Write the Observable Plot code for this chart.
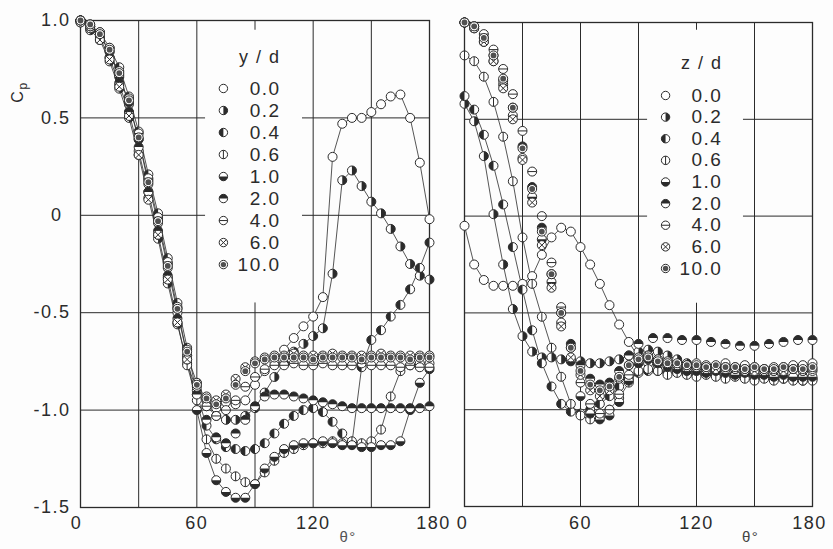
<!DOCTYPE html>
<html><head><meta charset="utf-8">
<script src="https://cdn.jsdelivr.net/npm/d3@7"></script>
<script src="https://cdn.jsdelivr.net/npm/@observablehq/plot@0.6"></script>
<style>
body{margin:0;background:#fdfdfd;}
#wrap{position:relative;width:833px;height:549px;overflow:hidden;background:#fdfdfd;}
#wrap svg{position:absolute;top:0;background:transparent;}
</style></head><body><div id="wrap"></div>
<script>
// ---------- data ----------
const thetaL = [0,5,10,15,20,25,30,35,40,45,50,55,60,65,70,75,80,85,90,95,100,105,110,115,120,125,130,135,140,145,150,155,160,165,170,175,180];
const thetaR = [0,5,10,15,20,25,30,35,40,45,50,55,60,65,70,75,80,85,90,95,100,105,110,115,120,125,130,135,140,145,150,155,160,165,170,175,180];
const thetaR20 = [0,5,10,15,20,25,30,35,40,45,50,55,60,65,70,75,80,85,90,97.5,105,112.5,120,127.5,135,142.5,150,157.5,165,172.5,180];
const keys = ["0.0","0.2","0.4","0.6","1.0","2.0","4.0","6.0","10.0"];

// left panel: y/d
const cpY00 = [1.0,0.97,0.93,0.84,0.72,0.57,0.39,0.16,-0.04,-0.27,-0.5,-0.72,-0.86,-0.95,-0.99,-0.96,-0.97,-0.95,-0.87,-0.8,-0.75,-0.69,-0.63,-0.57,-0.52,-0.42,0.3,0.47,0.5,0.5,0.53,0.57,0.61,0.62,0.5,0.27,-0.02];
const cpY02 = [1.0,0.95,0.9,0.79,0.65,0.5,0.31,0.09,-0.12,-0.35,-0.56,-0.76,-0.9,-0.98,-1.03,-1.05,-1.05,-1.03,-0.99,-0.91,-0.83,-0.76,-0.7,-0.66,-0.62,-0.58,-0.3,0.18,0.23,0.15,0.07,0.01,-0.07,-0.16,-0.25,-0.31,-0.33];
const cpY04 = [0.99,0.97,0.94,0.86,0.76,0.61,0.43,0.21,0.01,-0.22,-0.45,-0.68,-0.92,-1.08,-1.15,-1.19,-1.2,-1.21,-1.2,-1.17,-1.12,-1.07,-1.03,-1.0,-0.99,-1.01,-1.06,-1.12,-1.17,-0.78,-0.64,-0.59,-0.52,-0.46,-0.38,-0.27,-0.14];
const cpY06 = [1.0,0.96,0.91,0.81,0.67,0.53,0.33,0.12,-0.1,-0.32,-0.55,-0.77,-0.95,-1.15,-1.25,-1.3,-1.34,-1.37,-1.38,-1.32,-1.26,-1.22,-1.2,-1.18,-1.17,-1.17,-1.16,-1.17,-1.16,-1.17,-1.16,-1.1,-0.93,-0.8,-0.77,-0.76,-0.76];
const cpY10 = [1.0,0.98,0.92,0.84,0.71,0.58,0.39,0.18,-0.02,-0.25,-0.48,-0.72,-1.0,-1.22,-1.36,-1.42,-1.45,-1.45,-1.38,-1.3,-1.24,-1.2,-1.18,-1.17,-1.17,-1.16,-1.17,-1.18,-1.18,-1.19,-1.19,-1.18,-1.18,-1.16,-1.0,-0.86,-0.79];
const cpY20 = [0.99,0.96,0.9,0.81,0.68,0.53,0.35,0.12,-0.08,-0.31,-0.53,-0.74,-0.92,-1.05,-1.14,-1.17,-1.12,-1.05,-0.98,-0.93,-0.92,-0.92,-0.93,-0.94,-0.95,-0.96,-0.97,-0.98,-0.99,-0.99,-0.99,-0.99,-0.99,-0.99,-0.99,-0.99,-0.98];
const cpY40 = [1.0,0.97,0.94,0.86,0.74,0.6,0.42,0.19,-0.01,-0.24,-0.47,-0.69,-0.88,-0.98,-1.03,-1.0,-0.95,-0.88,-0.83,-0.79,-0.77,-0.77,-0.76,-0.77,-0.77,-0.76,-0.77,-0.77,-0.77,-0.76,-0.77,-0.77,-0.77,-0.78,-0.77,-0.78,-0.78];
const cpY60 = [1.0,0.97,0.9,0.8,0.66,0.51,0.31,0.08,-0.1,-0.33,-0.55,-0.74,-0.86,-0.93,-0.95,-0.92,-0.84,-0.78,-0.75,-0.73,-0.72,-0.72,-0.71,-0.72,-0.72,-0.72,-0.71,-0.72,-0.72,-0.72,-0.72,-0.71,-0.72,-0.72,-0.72,-0.72,-0.72];
const cpY100 = [1.0,0.98,0.93,0.85,0.73,0.59,0.4,0.17,-0.03,-0.26,-0.48,-0.7,-0.87,-0.94,-0.97,-0.94,-0.87,-0.8,-0.76,-0.74,-0.73,-0.73,-0.73,-0.73,-0.74,-0.73,-0.73,-0.73,-0.73,-0.74,-0.73,-0.73,-0.73,-0.73,-0.74,-0.73,-0.73];

// right panel: z/d
const cpZ00 = [-0.05,-0.25,-0.33,-0.36,-0.36,-0.36,-0.35,-0.31,-0.2,-0.11,-0.06,-0.08,-0.16,-0.25,-0.35,-0.46,-0.56,-0.65,-0.73,-0.76,-0.77,-0.75,-0.76,-0.78,-0.76,-0.77,-0.78,-0.76,-0.78,-0.77,-0.78,-0.79,-0.78,-0.78,-0.77,-0.77,-0.76];
const cpZ02 = [0.58,0.49,0.31,0.01,-0.25,-0.48,-0.62,-0.7,-0.73,-0.73,-0.74,-0.74,-0.75,-0.76,-0.76,-0.75,-0.74,-0.72,-0.7,-0.69,-0.7,-0.72,-0.74,-0.76,-0.78,-0.79,-0.8,-0.81,-0.82,-0.82,-0.83,-0.83,-0.84,-0.84,-0.84,-0.85,-0.84];
const cpZ04 = [0.62,0.55,0.42,0.26,0.06,-0.16,-0.38,-0.59,-0.76,-0.88,-0.97,-1.01,-1.02,-1.0,-0.97,-0.93,-0.88,-0.84,-0.81,-0.8,-0.8,-0.81,-0.8,-0.81,-0.82,-0.81,-0.82,-0.83,-0.82,-0.83,-0.82,-0.83,-0.84,-0.83,-0.84,-0.83,-0.84];
const cpZ06 = [0.83,0.8,0.72,0.59,0.41,0.18,-0.11,-0.35,-0.52,-0.68,-0.83,-0.97,-1.03,-1.05,-1.04,-1.0,-0.94,-0.86,-0.8,-0.79,-0.8,-0.82,-0.81,-0.82,-0.83,-0.82,-0.83,-0.84,-0.83,-0.84,-0.85,-0.84,-0.85,-0.84,-0.85,-0.85,-0.85];
const cpZ10 = [1.0,0.97,0.9,0.8,0.68,0.52,0.3,0.1,-0.12,-0.34,-0.55,-0.75,-0.93,-1.02,-1.05,-1.03,-0.96,-0.85,-0.76,-0.74,-0.76,-0.78,-0.79,-0.8,-0.8,-0.81,-0.8,-0.81,-0.82,-0.81,-0.82,-0.82,-0.83,-0.82,-0.83,-0.83,-0.83];
const cpZ20 = [1.0,0.98,0.92,0.83,0.7,0.56,0.36,0.15,-0.06,-0.3,-0.5,-0.66,-0.77,-0.84,-0.87,-0.86,-0.8,-0.72,-0.66,-0.63,-0.63,-0.64,-0.64,-0.65,-0.66,-0.67,-0.67,-0.66,-0.65,-0.64,-0.64];
const cpZ40 = [1.0,0.98,0.94,0.86,0.76,0.63,0.44,0.23,0.0,-0.24,-0.47,-0.68,-0.86,-0.97,-1.02,-1.0,-0.92,-0.82,-0.74,-0.72,-0.74,-0.76,-0.77,-0.78,-0.78,-0.79,-0.78,-0.79,-0.79,-0.8,-0.79,-0.8,-0.8,-0.8,-0.79,-0.8,-0.8];
const cpZ60 = [1.0,0.97,0.9,0.8,0.66,0.5,0.29,0.07,-0.15,-0.37,-0.57,-0.73,-0.82,-0.9,-0.93,-0.9,-0.84,-0.77,-0.73,-0.72,-0.74,-0.75,-0.77,-0.77,-0.78,-0.78,-0.79,-0.78,-0.79,-0.79,-0.8,-0.79,-0.8,-0.8,-0.79,-0.8,-0.79];
const cpZ100 = [1.0,0.98,0.92,0.83,0.71,0.56,0.35,0.14,-0.08,-0.3,-0.5,-0.68,-0.8,-0.87,-0.9,-0.88,-0.83,-0.77,-0.74,-0.73,-0.75,-0.76,-0.76,-0.77,-0.77,-0.78,-0.77,-0.78,-0.78,-0.79,-0.78,-0.79,-0.79,-0.78,-0.79,-0.79,-0.78];

const xTicks = [0, 60, 120, 180];
const xGrid = [30, 60, 90, 120, 150];
const yGrid = [0.5, 0, -0.5, -1.0];
const yTicks = [1.0, 0.5, -0.5, -1.0, -1.5];
const yTickLabels = ["1.0", "0.5", "-0.5", "-1.0", "-1.5"];

// ---------- build ----------
const INK = "#2b2b2b";
const FONT = "Liberation Sans, Arial, sans-serif";

const leftSeries = [["0.0",thetaL,cpY00],["0.2",thetaL,cpY02],["0.4",thetaL,cpY04],["0.6",thetaL,cpY06],["1.0",thetaL,cpY10],["2.0",thetaL,cpY20],["4.0",thetaL,cpY40],["6.0",thetaL,cpY60],["10.0",thetaL,cpY100]];
const rightSeries = [["0.0",thetaR,cpZ00],["0.2",thetaR,cpZ02],["0.4",thetaR,cpZ04],["0.6",thetaR,cpZ06],["1.0",thetaR,cpZ10],["2.0",thetaR20,cpZ20],["4.0",thetaR,cpZ40],["6.0",thetaR,cpZ60],["10.0",thetaR,cpZ100]];
const tidy = s => s.flatMap(([key, th, vals]) => vals.map((v, i) => ({key, theta: th[i], cp: v})));
const dataL = tidy(leftSeries), dataR = tidy(rightSeries);

// custom marker symbols
const TAU = 2 * Math.PI, PI = Math.PI;
const rad = s => Math.sqrt(s / PI);
const symHalfR = {draw(c, s) { const r = rad(s); c.moveTo(0, -r); c.arc(0, 0, r, -PI/2, PI/2); c.closePath(); }};
const symHalfL = {draw(c, s) { const r = rad(s); c.moveTo(0, r); c.arc(0, 0, r, PI/2, 3*PI/2); c.closePath(); }};
const symHalfB = {draw(c, s) { const r = rad(s); c.moveTo(r, 0); c.arc(0, 0, r, 0, PI); c.closePath(); }};
const symHalfT = {draw(c, s) { const r = rad(s); c.moveTo(-r, 0); c.arc(0, 0, r, PI, TAU); c.closePath(); }};
const symV = {draw(c, s) { const r = rad(s); c.moveTo(0, -r); c.lineTo(0, r); }};
const symH = {draw(c, s) { const r = rad(s); c.moveTo(-r, 0); c.lineTo(r, 0); }};
const symX = {draw(c, s) { const r = rad(s) * 0.72; c.moveTo(-r, -r); c.lineTo(r, r); c.moveTo(r, -r); c.lineTo(-r, r); }};
const symDot = {draw(c, s) { const r = rad(s) * 0.64; c.moveTo(r, 0); c.arc(0, 0, r, 0, TAU); }};
const overlay = {
  "0.2": {symbol: symHalfR, fill: INK},
  "0.4": {symbol: symHalfL, fill: INK},
  "0.6": {symbol: symV, stroke: INK},
  "1.0": {symbol: symHalfB, fill: INK},
  "2.0": {symbol: symHalfT, fill: INK},
  "4.0": {symbol: symH, stroke: INK},
  "6.0": {symbol: symX, stroke: INK},
  "10.0": {symbol: symDot, fill: "#505050"}
};
function markerMarks(data, R) {
  return keys.flatMap(k => {
    const d = data.filter(e => e.key === k);
    const out = [Plot.dot(d, {x: "theta", y: "cp", r: R, fill: "white", stroke: INK, strokeWidth: 1})];
    const o = overlay[k];
    if (o) out.push(Plot.dot(d, {x: "theta", y: "cp", r: R, symbol: o.symbol, fill: o.fill || "none", stroke: o.stroke || "none", strokeWidth: 1}));
    return out;
  });
}
function gridMarks(gap) {
  const v = xGrid.flatMap(x => (x > gap.x1 && x < gap.x2)
    ? [{x, y1: 1, y2: gap.yTop}, {x, y1: gap.yBottom, y2: -1.5}]
    : [{x, y1: -1.5, y2: 1}]);
  const h = yGrid.flatMap(y => (y < gap.yTop && y > gap.yBottom)
    ? [{y, x1: 0, x2: gap.x1}, {y, x1: gap.x2, x2: 180}]
    : [{y, x1: 0, x2: 180}]);
  return [
    Plot.ruleX(v, {x: "x", y1: "y1", y2: "y2", stroke: INK, strokeWidth: 1}),
    Plot.ruleY(h, {y: "y", x1: "x1", x2: "x2", stroke: INK, strokeWidth: 1})
  ];
}
function legendMarks(cfg) {
  const rows = keys.map((k, i) => ({key: k, theta: cfg.markerTheta, cp: cfg.top - i * cfg.step}));
  return [
    Plot.text([cfg.title], {x: cfg.textTheta, y: cfg.titleCp, text: d => d, textAnchor: "end", fontSize: 18, fill: INK}),
    ...markerMarks(rows, 4.2),
    Plot.text(rows, {x: cfg.textTheta, y: "cp", text: "key", textAnchor: "end", fontSize: 19, fill: INK})
  ];
}
const lineKeysL = ["0.0","0.2","0.4","0.6","1.0"];
const lineKeysR = ["0.0","0.2","0.4","0.6"];
const styleObj = {fontFamily: FONT, fontSize: "18px", color: INK, background: "transparent", letterSpacing: "1.5px", overflow: "visible"};

function cpLabel() {
  return () => {
    const t = d3.create("svg:text").attr("transform", "translate(23,92) rotate(-90)")
      .attr("font-size", 16).attr("fill", INK).attr("font-family", FONT);
    t.append("tspan").text("C");
    t.append("tspan").attr("dy", 4).attr("font-size", 12).text("p");
    return t.node();
  };
}

const left = Plot.plot({
  width: 440, height: 549,
  marginLeft: 80, marginRight: 11, marginTop: 20, marginBottom: 42,
  x: {domain: [0, 180], axis: null},
  y: {domain: [-1.5, 1], axis: null},
  style: styleObj,
  marks: [
    ...gridMarks({x1: 64.5, x2: 114.5, yTop: 0.95, yBottom: -0.45}),
    Plot.frame({stroke: INK, strokeWidth: 1.3}),
    Plot.line(dataL.filter(d => lineKeysL.includes(d.key)), {x: "theta", y: "cp", z: "key", stroke: INK, strokeWidth: 0.8}),
    ...markerMarks(dataL, 4.5),
    ...legendMarks({title: "y / d", markerTheta: 73.7, textTheta: 103.2, titleCp: 0.81, top: 0.651, step: 0.113}),
    Plot.text(yTicks, {x: 0, y: d => d, text: (d, i) => yTickLabels[i], textAnchor: "end", dx: -10, fontSize: 18, fill: INK}),
    Plot.text([0], {x: 0, y: d => d, text: d => "0", textAnchor: "end", dx: -18, fontSize: 18, fill: INK}),
    Plot.text([xTicks[0]], {x: d => d, y: -1.5, dy: 16, text: d => String(d), dx: -4, fontSize: 18, fill: INK}),
    Plot.text(xTicks.slice(1, 3), {x: d => d, y: -1.5, dy: 16, text: d => String(d), fontSize: 18, fill: INK}),
    Plot.text([xTicks[3]], {x: d => d, y: -1.5, dy: 16, text: d => String(d), dx: 4, fontSize: 18, fill: INK}),
    Plot.text(["θ°"], {x: 138, y: -1.5, dy: 30, text: d => d, fontSize: 15, fill: "#555"}),
    cpLabel()
  ]
});
left.style.left = "0px";

const right = Plot.plot({
  width: 393, height: 549,
  marginLeft: 24, marginRight: 21, marginTop: 22, marginBottom: 43,
  x: {domain: [0, 180], axis: null},
  y: {domain: [-1.5, 1], axis: null},
  style: styleObj,
  marks: [
    ...gridMarks({x1: 94.7, x2: 144.3, yTop: 0.96, yBottom: -0.45}),
    Plot.frame({stroke: INK, strokeWidth: 1.3}),
    Plot.line(dataR.filter(d => lineKeysR.includes(d.key)), {x: "theta", y: "cp", z: "key", stroke: INK, strokeWidth: 0.8}),
    ...markerMarks(dataR, 4.5),
    ...legendMarks({title: "z / d", markerTheta: 104, textTheta: 133.4, titleCp: 0.788, top: 0.623, step: 0.1117}),
    Plot.text([xTicks[0]], {x: d => d, y: -1.5, dy: 17, text: d => String(d), dx: -2, fontSize: 18, fill: INK}),
    Plot.text(xTicks.slice(1, 3), {x: d => d, y: -1.5, dy: 17, text: d => String(d), fontSize: 18, fill: INK}),
    Plot.text([xTicks[3]], {x: d => d, y: -1.5, dy: 17, text: d => String(d), dx: -3, fontSize: 18, fill: INK}),
    Plot.text(["θ°"], {x: 148, y: -1.5, dy: 31, text: d => d, fontSize: 15, fill: "#444"})
  ]
});
right.style.left = "440px";

const wrap = document.getElementById("wrap");
wrap.appendChild(left);
wrap.appendChild(right);
</script></body></html>
